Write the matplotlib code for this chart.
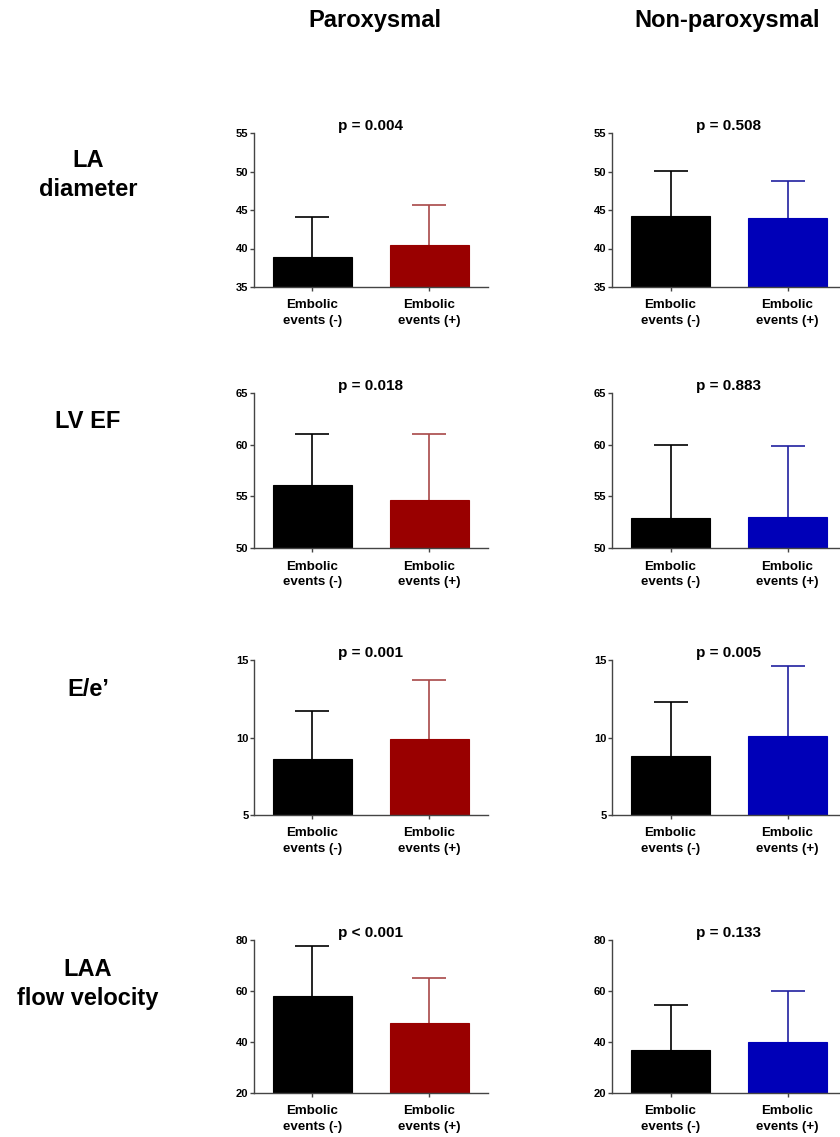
import numpy as np
import matplotlib
matplotlib.use("Agg")
import matplotlib.pyplot as plt

plt.rcParams['font.family'] = ['Liberation Sans', 'DejaVu Sans']
plt.rcParams['font.weight'] = 'bold'

groups = ["Embolic\nevents (-)", "Embolic\nevents (+)"]
columns = ["Paroxysmal", "Non-paroxysmal"]
row_labels = ["LA\ndiameter", "LV EF", "E/e\u2019", "LAA\nflow velocity"]

# means and upper SD per row: [paroxysmal, non-paroxysmal] x [(-), (+)]
la_mean = [[38.9, 40.4], [44.2, 43.9]]
la_sd = [[5.2, 5.3], [5.9, 4.9]]
lvef_mean = [[56.1, 54.6], [52.9, 53.0]]
lvef_sd = [[4.9, 6.4], [7.1, 6.9]]
ee_mean = [[8.6, 9.9], [8.8, 10.1]]
ee_sd = [[3.1, 3.8], [3.5, 4.5]]
laa_mean = [[58.0, 47.5], [37.0, 40.0]]
laa_sd = [[19.5, 17.5], [17.5, 20.0]]

p_values = [["p = 0.004", "p = 0.508"],
            ["p = 0.018", "p = 0.883"],
            ["p = 0.001", "p = 0.005"],
            ["p < 0.001", "p = 0.133"]]
y_limits = [(35, 55), (50, 65), (5, 15), (20, 80)]
y_steps = [5, 5, 5, 20]

means = [la_mean, lvef_mean, ee_mean, laa_mean]
sds = [la_sd, lvef_sd, ee_sd, laa_sd]
accent = ["#990000", "#0000b8"]
err_accent = ["#a84848", "#2020a0"]

W, H = 840, 1137
fig = plt.figure(figsize=(W / 100, H / 100), dpi=100)

col_left = [254, 612]
ax_w = 234
row_px = [(133, 287), (393, 548), (660, 815), (940, 1093)]
row_label_y = [175, 422, 690, 984]

for r in range(4):
    top, bot = row_px[r]
    for c in range(2):
        ax = fig.add_axes([col_left[c] / W, 1 - bot / H, ax_w / W, (bot - top) / H])
        x = np.arange(2)
        m = means[r][c]
        s = sds[r][c]
        cols = ["black", accent[c]]
        ecols = ["black", err_accent[c]]
        ax.bar(x, m, width=0.667, color=cols, edgecolor=cols, linewidth=0.8, zorder=2)
        for i in range(2):
            eb = ax.errorbar(x[i], m[i], yerr=[[0], [s[i]]], color=ecols[i],
                             capsize=12, elinewidth=1.2, capthick=1.2, zorder=1)
            eb[1][0].set_visible(False)  # no lower cap
        lo, hi = y_limits[r]
        ax.set_ylim(lo, hi)
        ax.set_xlim(-0.5, 1.5)
        ax.set_yticks(np.arange(lo, hi + 0.1, y_steps[r]))
        ax.set_xticks(x)
        ax.set_xticklabels(groups, fontsize=9.6, fontweight='bold', linespacing=1.35)
        ax.spines['top'].set_visible(False)
        ax.spines['right'].set_visible(False)
        for sp in ['left', 'bottom']:
            ax.spines[sp].set_color('#444444')
            ax.spines[sp].set_linewidth(1.0)
        ax.tick_params(axis='y', length=3, width=1, color='#444444', pad=1, labelsize=8)
        ax.tick_params(axis='x', length=3, width=1, color='#444444', pad=6)
        ax.set_title(p_values[r][c], fontsize=11, fontweight='bold', pad=2)
        ax.patch.set_alpha(0)

    fig.text(88 / W, 1 - row_label_y[r] / H, row_labels[r], fontsize=17,
             fontweight='bold', ha='center', va='center', linespacing=1.3)

fig.text(375 / W, 1 - 20 / H, columns[0], fontsize=17, fontweight='bold', ha='center', va='center')
fig.text(727 / W, 1 - 20 / H, columns[1], fontsize=17, fontweight='bold', ha='center', va='center')

fig.savefig("out.png", dpi=100)
